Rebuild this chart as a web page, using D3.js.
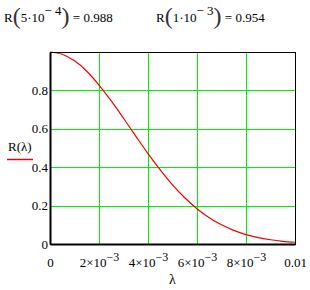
<!DOCTYPE html>
<html>
<head>
<meta charset="utf-8">
<script src="https://cdn.jsdelivr.net/npm/d3@7"></script>
<style>
  body { margin: 0; background: #fff; }
  text { font-family: "Liberation Serif", "DejaVu Serif", serif; fill: #000; }
</style>
</head>
<body>
<div id="chart"></div>
<script>
// lambda values (x) and R(lambda)
const lambdas = [0, 0.0005, 0.001, 0.0015, 0.002, 0.0025, 0.003, 0.0035, 0.004, 0.0045, 0.005,
    0.0055, 0.006, 0.0065, 0.007, 0.0075, 0.008, 0.0085, 0.009, 0.0095, 0.01];
const rValues = [1, 0.988, 0.954, 0.900, 0.828, 0.745, 0.655, 0.562, 0.471, 0.386, 0.308,
    0.241, 0.184, 0.137, 0.100, 0.071, 0.049, 0.033, 0.022, 0.014, 0.009];
const xTicks = [0, 0.002, 0.004, 0.006, 0.008, 0.01];
const xTickLabels = [["0"], ["2×10", "−3"], ["4×10", "−3"], ["6×10", "−3"], ["8×10", "−3"], ["0.01"]];
const yTicks = [0, 0.2, 0.4, 0.6, 0.8];
const yTickLabels = ["0", "0.2", "0.4", "0.6", "0.8"];
const headerTerms = [
    {base: "5·10", exp: "− 4", value: "0.988"},
    {base: "1·10", exp: "− 3", value: "0.954"}
];

const width = 310, height = 290;
const margin = {top: 52, left: 50, right: 15, bottom: 46};
const plotW = width - margin.left - margin.right;
const plotH = height - margin.top - margin.bottom;

const svg = d3.select("#chart").append("svg")
    .attr("width", width)
    .attr("height", height);

//Header values
const headerX = [4, 156];
headerTerms.forEach(function (h, i) {
    const t = svg.append("text")
        .attr("x", headerX[i])
        .attr("y", 22)
        .style("font-size", "13px");
    t.append("tspan").text("R");
    t.append("tspan").style("font-size", "24px").attr("dy", 2).attr("fill", "#333").text("(");
    t.append("tspan").attr("dy", -2).text(h.base);
    t.append("tspan").attr("dy", -7).text(h.exp);
    t.append("tspan").style("font-size", "24px").attr("dy", 9).attr("fill", "#333").text(")");
    t.append("tspan").attr("dy", -2).text(" = " + h.value);
});

const g = svg.append("g")
    .attr("transform", "translate(" + margin.left + "," + margin.top + ")");

const x = d3.scaleLinear().domain([0, 0.01]).range([0, plotW]);
const y = d3.scaleLinear().domain([0, 1]).range([plotH, 0]);

//Grid lines
g.append("g").selectAll("line")
    .data(xTicks.slice(1, -1))
    .enter().append("line")
    .attr("x1", d => Math.round(x(d)) + 0.5).attr("x2", d => Math.round(x(d)) + 0.5)
    .attr("y1", 0).attr("y2", plotH)
    .attr("stroke", "#00f000")
    .attr("stroke-width", 1);
g.append("g").selectAll("line")
    .data(yTicks.slice(1))
    .enter().append("line")
    .attr("x1", 0).attr("x2", plotW)
    .attr("y1", d => Math.round(y(d)) + 0.5).attr("y2", d => Math.round(y(d)) + 0.5)
    .attr("stroke", "#00f000")
    .attr("stroke-width", 1);

//Curve
const line = d3.line()
    .x((d, i) => x(lambdas[i]))
    .y(d => y(d))
    .curve(d3.curveMonotoneX);
g.append("path")
    .datum(rValues)
    .attr("d", line)
    .attr("fill", "none")
    .attr("stroke", "#f00000")
    .attr("stroke-width", 1.2);

//Frame
g.append("rect")
    .attr("x", 0.5).attr("y", 0.5)
    .attr("width", plotW).attr("height", plotH)
    .attr("fill", "none")
    .attr("stroke", "#000")
    .attr("stroke-width", 1);

//Axes
const xAxis = g.append("g")
    .attr("transform", "translate(0," + plotH + ")")
    .call(d3.axisBottom(x).tickValues(xTicks).tickSize(0).tickPadding(14).tickFormat(""));
xAxis.select(".domain").attr("stroke-width", 2);
xAxis.selectAll(".tick text")
    .style("font-size", "13px")
    .style("font-family", "Liberation Serif, serif")
    .each(function (d, i) {
        const lab = xTickLabels[i];
        const t = d3.select(this);
        t.append("tspan").text(lab[0]);
        if (lab.length > 1) {
            t.append("tspan").attr("dy", -6).style("font-size", "12px").text(lab[1]);
        }
    });

const yAxis = g.append("g")
    .call(d3.axisLeft(y).tickValues(yTicks).tickSize(0).tickPadding(2)
        .tickFormat((d, i) => yTickLabels[i]));
yAxis.select(".domain").attr("stroke-width", 2);
yAxis.selectAll(".tick text")
    .style("font-size", "13px")
    .style("font-family", "Liberation Serif, serif");

//Axis titles
svg.append("text")
    .attr("x", margin.left + plotW / 2)
    .attr("y", 284)
    .attr("text-anchor", "middle")
    .style("font-size", "14px")
    .text("λ");
svg.append("text")
    .attr("x", 8)
    .attr("y", 151)
    .style("font-size", "13px")
    .text("R(λ)");
svg.append("line")
    .attr("x1", 7).attr("x2", 33)
    .attr("y1", 159.5).attr("y2", 159.5)
    .attr("stroke", "#f00000")
    .attr("stroke-width", 1.5);
</script>
</body>
</html>
